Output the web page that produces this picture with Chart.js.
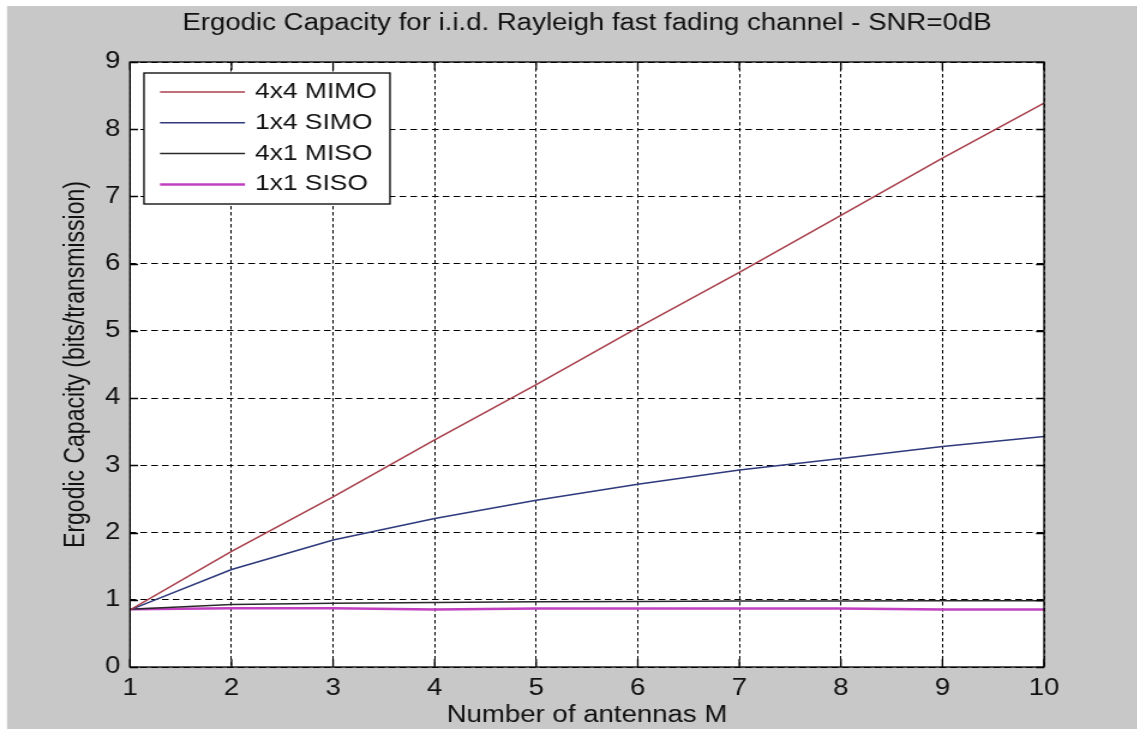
<!DOCTYPE html>
<html>
<head>
<meta charset="utf-8">
<script src="https://cdn.jsdelivr.net/npm/chart.js@4.4.1/dist/chart.umd.min.js"></script>
<style>
  html, body { margin: 0; padding: 0; background: #fff; overflow: hidden; }
  /* the original figure is stretched sideways, so the canvas is too */
  #capacityChart { transform: scaleX(1.2); transform-origin: 0 0; display: block; }
</style>
</head>
<body>
<canvas id="capacityChart" width="948" height="729"></canvas>
<script>
// antenna count M on the x axis
const antennas = [1, 2, 3, 4, 5, 6, 7, 8, 9, 10];
// ergodic capacity (bits/transmission)
const mimo4x4 = [0.85, 1.72, 2.53, 3.38, 4.20, 5.05, 5.87, 6.72, 7.57, 8.39];
const simo1x4 = [0.85, 1.45, 1.89, 2.21, 2.48, 2.72, 2.93, 3.10, 3.28, 3.43];
const miso4x1 = [0.86, 0.93, 0.95, 0.96, 0.97, 0.975, 0.98, 0.98, 0.985, 0.985];
const siso1x1 = [0.86, 0.875, 0.875, 0.855, 0.87, 0.87, 0.87, 0.87, 0.855, 0.855];
const seriesNames = ['4x4 MIMO', '1x4 SIMO', '4x1 MISO', '1x1 SISO'];
const seriesColors = ['#a8404c', '#2e3a7c', '#2a2a2a', '#c040c0'];
const xTicks = [1, 2, 3, 4, 5, 6, 7, 8, 9, 10];
const yTicks = [0, 1, 2, 3, 4, 5, 6, 7, 8, 9];

const FONT = "'Liberation Sans', Arial, sans-serif";
const SX = 1.2; // horizontal stretch of the page
Chart.defaults.font.family = FONT;
Chart.defaults.color = '#111';

function toPoints(ys) {
  return antennas.map((m, i) => ({x: m, y: ys[i]}));
}

// grey figure window + white axes background
const backdrop = {
  id: 'backdrop',
  beforeDraw(chart) {
    const ctx = chart.ctx, a = chart.chartArea;
    ctx.save();
    ctx.fillStyle = '#ffffff';
    ctx.fillRect(0, 0, chart.width, chart.height);
    ctx.fillStyle = '#c8c8c8';
    ctx.fillRect(7 / SX, 6, chart.width, chart.height - 6);
    ctx.fillStyle = '#ffffff';
    ctx.fillRect(a.left, a.top, a.right - a.left, a.bottom - a.top);
    ctx.restore();
  }
};

// axes box with inward tick marks, matlab style
const axesBox = {
  id: 'axesBox',
  afterDraw(chart) {
    const ctx = chart.ctx, a = chart.chartArea;
    const xs = chart.scales.x, ys = chart.scales.y;
    ctx.save();
    ctx.strokeStyle = '#000';
    ctx.lineWidth = 1.3;
    ctx.strokeRect(a.left, a.top, a.right - a.left, a.bottom - a.top);
    ctx.beginPath();
    xTicks.forEach(v => {
      const px = xs.getPixelForValue(v);
      ctx.moveTo(px, a.bottom); ctx.lineTo(px, a.bottom - 8);
      ctx.moveTo(px, a.top); ctx.lineTo(px, a.top + 8);
    });
    yTicks.forEach(v => {
      const py = Math.round(ys.getPixelForValue(v)) + 0.5;
      ctx.moveTo(a.left, py); ctx.lineTo(a.left + 8 / SX, py);
      ctx.moveTo(a.right, py); ctx.lineTo(a.right - 8 / SX, py);
    });
    ctx.stroke();
    ctx.restore();
  }
};

// legend box in the upper left of the axes
const legendBox = {
  id: 'legendBox',
  afterDraw(chart) {
    const ctx = chart.ctx, a = chart.chartArea;
    const x0 = a.left + 14 / SX, y0 = a.top + 11, w = 246 / SX, h = 131;
    ctx.save();
    ctx.fillStyle = '#fff';
    ctx.fillRect(x0, y0, w, h);
    ctx.strokeStyle = '#000';
    ctx.lineWidth = 1.3;
    ctx.strokeRect(x0, y0, w, h);
    ctx.font = '22px ' + FONT;
    ctx.textBaseline = 'middle';
    chart.data.datasets.forEach((ds, i) => {
      const ry = y0 + 19 + i * 30.8;
      ctx.strokeStyle = ds.borderColor;
      ctx.lineWidth = ds.borderWidth;
      ctx.beginPath();
      ctx.moveTo(x0 + 16 / SX, ry); ctx.lineTo(x0 + 101 / SX, ry);
      ctx.stroke();
      ctx.fillStyle = '#111';
      ctx.fillText(ds.label, x0 + 111 / SX, ry);
    });
    ctx.restore();
  }
};

new Chart(document.getElementById('capacityChart'), {
  type: 'scatter',
  data: {
    datasets: [mimo4x4, simo1x4, miso4x1, siso1x1].map((ys, i) => ({
      label: seriesNames[i],
      data: toPoints(ys),
      showLine: true,
      borderColor: seriesColors[i],
      backgroundColor: seriesColors[i],
      borderWidth: i === 3 ? 2.5 : 1.5,
      pointRadius: 0,
      tension: 0
    }))
  },
  options: {
    responsive: false,
    animation: false,
    devicePixelRatio: 1,
    layout: { padding: { left: 6, top: 6, right: 78, bottom: 0 } },
    plugins: {
      legend: { display: false },
      tooltip: { enabled: false },
      title: {
        display: true,
        fullSize: false,
        text: 'Ergodic Capacity for i.i.d. Rayleigh fast fading channel - SNR=0dB',
        font: { size: 23, weight: 'normal' },
        color: '#111',
        padding: { top: 4, bottom: 24.4 }
      }
    },
    scales: {
      x: {
        type: 'linear',
        min: 1, max: 10,
        afterFit: s => { s.height = 62; },
        afterBuildTicks: s => { s.ticks = xTicks.map(v => ({value: v})); },
        ticks: { font: { size: 23 }, padding: 8, maxRotation: 0, color: '#111' },
        grid: { color: '#000', lineWidth: 1, drawTicks: false },
        border: { display: false, dash: [3.5, 2.5] },
        title: {
          display: true,
          text: 'Number of antennas M',
          font: { size: 23 },
          color: '#111',
          padding: { top: 0, bottom: 0 }
        }
      },
      y: {
        type: 'linear',
        min: 0, max: 9,
        afterFit: s => { s.width = 102.3; },
        afterBuildTicks: s => { s.ticks = yTicks.map(v => ({value: v})); },
        ticks: { font: { size: 23 }, padding: 8, color: '#111' },
        grid: { color: '#000', lineWidth: 1, drawTicks: false },
        border: { display: false, dash: [5.5, 3.5] },
        title: {
          display: true,
          text: 'Ergodic Capacity (bits/transmission)',
          font: { size: 23 },
          color: '#111',
          padding: { top: 44, bottom: 0 }
        }
      }
    }
  },
  plugins: [backdrop, axesBox, legendBox]
});
</script>
</body>
</html>
